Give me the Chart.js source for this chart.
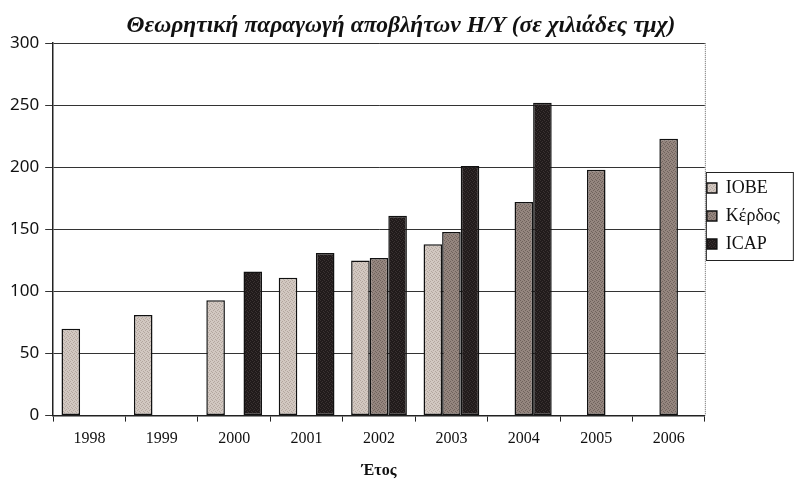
<!DOCTYPE html>
<html>
<head>
<meta charset="utf-8">
<script src="https://cdn.jsdelivr.net/npm/chart.js@4.4.0/dist/chart.umd.min.js"></script>
<style>
  html, body { margin: 0; padding: 0; background: #fff; }
  #wrap { width: 804px; height: 500px; }
</style>
</head>
<body>
<div id="wrap"><canvas id="wasteChart" width="804" height="500"></canvas></div>
<script>
// δεδομένα (χιλιάδες τεμάχια)
const years = ['1998', '1999', '2000', '2001', '2002', '2003', '2004', '2005', '2006'];
const iobe = [70, 81, 93, 111, 125, 138, null, null, null];
const kerdos = [null, null, null, null, 127, 148, 172, 198, 223];
const icap = [null, null, 116, 131, 161, 201, 252, null, null];
const yTicks = [0, 50, 100, 150, 200, 250, 300];

// μικρό μοτίβο "κόκκου" σαν το σκαναρισμένο γέμισμα
function grain(base, dot) {
  const c = document.createElement('canvas');
  c.width = 4; c.height = 4;
  const g = c.getContext('2d');
  g.fillStyle = base;
  g.fillRect(0, 0, 4, 4);
  g.fillStyle = dot;
  [[0, 0], [2, 1], [1, 2], [3, 3]].forEach(([x, y]) => g.fillRect(x, y, 1, 1));
  return g.createPattern(c, 'repeat');
}

// το υπόμνημα μαζεύεται σε μικρό κουτί δεξιά, λίγο πάνω από τη μέση
const frame = {
  id: 'frame',
  afterLayout(chart) {
    const lg = chart.legend;
    lg.left -= 8;
    lg.top = 158;
    lg.bottom = 274;
    lg.height = 116;
  },
  afterDraw(chart) {
    const ctx = chart.ctx;
    const a = chart.chartArea;
    ctx.save();
    ctx.strokeStyle = '#222';
    ctx.lineWidth = 1;
    ctx.strokeRect(a.right + 1.5, 172.5, 87, 88);
    ctx.setLineDash([1, 1]);
    ctx.strokeStyle = '#666';
    ctx.beginPath();
    ctx.moveTo(a.right + 0.5, a.top);
    ctx.lineTo(a.right + 0.5, a.bottom);
    ctx.stroke();
    ctx.restore();
  }
};

const ds = (label, data, fill) => ({
  label, data,
  backgroundColor: fill,
  borderColor: '#111',
  borderWidth: 1.5,
  borderSkipped: false,
  barPercentage: 1,
  categoryPercentage: 0.77
});

new Chart(document.getElementById('wasteChart'), {
  type: 'bar',
  data: {
    labels: years,
    datasets: [
      ds('IOBE', iobe, grain('#d2c8c1', '#b3a69e')),
      ds('Κέρδος', kerdos, grain('#95867f', '#6f625c')),
      ds('ICAP', icap, grain('#211b1b', '#3a3232'))
    ]
  },
  options: {
    responsive: false,
    animation: false,
    layout: { padding: { top: 5, left: 4, right: 6, bottom: 16 } },
    plugins: {
      title: {
        display: true,
        text: 'Θεωρητική παραγωγή αποβλήτων Η/Υ (σε χιλιάδες τμχ)',
        color: '#111',
        font: { family: 'Liberation Serif', size: 23.5, style: 'italic', weight: 'bold' },
        padding: { top: 7, bottom: 3 }
      },
      legend: {
        position: 'right',
        labels: {
          color: '#111',
          boxWidth: 10,
          boxHeight: 10,
          padding: 10,
          font: { family: 'Liberation Serif', size: 18 }
        }
      },
      tooltip: { enabled: false }
    },
    scales: {
      x: {
        grid: { offset: true, drawOnChartArea: false, color: '#222', tickLength: 6 },
        border: { color: '#222', width: 1.5 },
        ticks: { color: '#111', padding: 8, font: { family: 'Liberation Serif', size: 16 } },
        title: {
          display: true,
          text: 'Έτος',
          color: '#111',
          padding: { top: 4 },
          font: { family: 'Liberation Serif', size: 16, weight: 'bold' }
        }
      },
      y: {
        min: 0,
        max: 300,
        afterBuildTicks: axis => { axis.ticks = yTicks.map(v => ({ value: v })); },
        grid: { color: '#333', tickLength: 8 },
        border: { color: '#222', width: 1.5 },
        ticks: { color: '#111', padding: 6, font: { family: 'Noto Sans', size: 17 } }
      }
    }
  },
  plugins: [frame]
});
</script>
</body>
</html>
